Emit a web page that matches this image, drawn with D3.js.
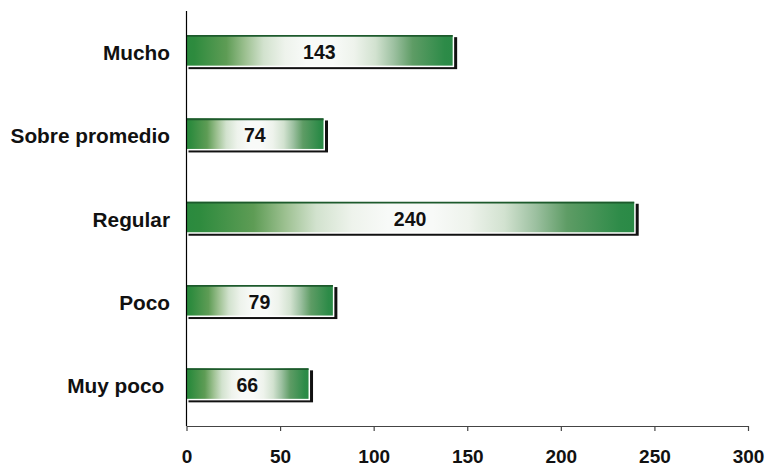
<!DOCTYPE html>
<html><head><meta charset="utf-8">
<script src="https://cdn.jsdelivr.net/npm/d3@7"></script>
<style>html,body{margin:0;padding:0;background:#fff;}svg{display:block;}</style>
</head><body>
<script>
const categories = ["Mucho", "Sobre promedio", "Regular", "Poco", "Muy poco "];
const values = [143, 74, 240, 79, 66];
const xTicks = [0, 50, 100, 150, 200, 250, 300];

const W = 766, H = 466;
const svg = d3.select("body").append("svg").attr("width", W).attr("height", H);
const font = "'Liberation Sans', Arial, sans-serif";

const x = d3.scaleLinear().domain([0, 300]).range([186.5, 748]);
const y = d3.scaleBand().domain(categories).range([9.5, 426]).paddingInner(0.616).paddingOuter(0.308);

const defs = svg.append("defs");
const g = defs.append("linearGradient").attr("id", "barGrad").attr("x1", "0").attr("x2", "1").attr("y1", "0").attr("y2", "0");
[[0, "#2a8a3e"], [0.03, "#2e8b3e"], [0.15, "#5e9c55"], [0.22, "#9cc090"], [0.29, "#d2e2ce"],
 [0.37, "#eef3ec"], [0.45, "#f8faf8"], [0.55, "#f8faf8"], [0.63, "#eef3ec"], [0.71, "#d2e2d0"],
 [0.78, "#9cc0a0"], [0.85, "#5e9c65"], [0.97, "#2d8b48"], [1, "#2a8a46"]]
  .forEach(([o, c]) => g.append("stop").attr("offset", o).attr("stop-color", c));

const xAxis = svg.append("g").attr("transform", "translate(0,426)")
  .call(d3.axisBottom(x).tickValues(xTicks).tickSize(5).tickSizeOuter(0).tickPadding(18));
xAxis.select(".domain").attr("stroke", "#444").attr("stroke-width", 1.2);
xAxis.selectAll(".tick line").attr("stroke", "#444").attr("stroke-width", 1.2);
xAxis.selectAll(".tick text").attr("font-family", font).attr("font-size", 19).attr("font-weight", "bold")
  .attr("fill", "#111").attr("dy", "0.72em");

const bars = svg.append("g").selectAll("g").data(categories).join("g");
bars.append("rect")
  .attr("x", x(0) + 2).attr("y", c => y(c) + 2)
  .attr("width", (c, i) => x(values[i]) - x(0) + 1).attr("height", y.bandwidth())
  .attr("fill", "#111");
bars.append("rect")
  .attr("x", x(0)).attr("y", c => y(c))
  .attr("width", (c, i) => x(values[i]) - x(0)).attr("height", y.bandwidth())
  .attr("fill", "#fff");
bars.append("rect")
  .attr("x", x(0)).attr("y", c => y(c))
  .attr("width", (c, i) => x(values[i]) - x(0) - 1.5).attr("height", y.bandwidth() - 1.5)
  .attr("fill", "url(#barGrad)");
bars.append("line")
  .attr("x1", x(0)).attr("x2", (c, i) => x(values[i]) - 1.5)
  .attr("y1", c => y(c) + 0.8).attr("y2", c => y(c) + 0.8)
  .attr("stroke", "#1d5a2c").attr("stroke-width", 1.8);

bars.append("text")
  .attr("x", (c, i) => (x(0) + x(values[i])) / 2 - 1)
  .attr("y", c => y(c) + y.bandwidth() / 2 + 8)
  .attr("text-anchor", "middle").attr("font-family", font).attr("font-size", 19.5).attr("font-weight", "bold")
  .attr("fill", "#111").text((c, i) => values[i]);

svg.append("g").selectAll("text").data(categories).join("text")
  .attr("x", 170).attr("y", c => y(c) + y.bandwidth() / 2 + 9)
  .attr("text-anchor", "end").attr("font-family", font).attr("font-size", 20.8).attr("font-weight", "bold")
  .attr("fill", "#111").style("white-space", "pre").text(c => c);

svg.append("line").attr("x1", x(0)).attr("x2", x(0)).attr("y1", 11).attr("y2", 426)
  .attr("stroke", "#000").attr("stroke-width", 1.2);
</script>
</body></html>
